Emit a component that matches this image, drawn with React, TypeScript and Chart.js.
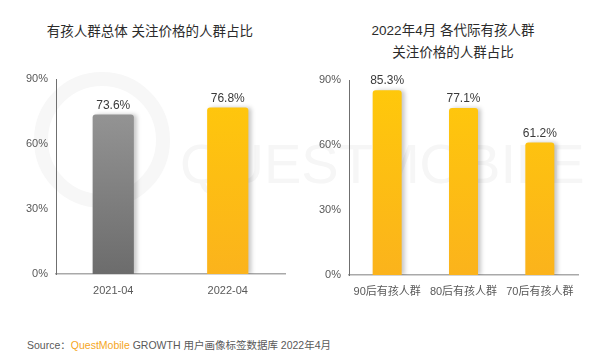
import React, { useEffect, useRef } from "react";
import { Chart, registerables } from "chart.js";
Chart.register(...registerables);

const leftCategories = ["2021-04", "2022-04"];
const leftValues = [73.6, 76.8];
const rightCategories = ["90后有孩人群", "80后有孩人群", "70后有孩人群"];
const rightValues = [85.3, 77.1, 61.2];
const yMin = 0;
const yMax = 90;
const yStep = 30;

const FONT = '"Liberation Sans", "Noto Sans CJK SC", Arial, sans-serif';

type Grad = [string, string];
const grayGrad: Grad = ["#9c9c9c", "#6c6c6c"];
const yellowGrad: Grad = ["#ffc90a", "#fbb31c"];

const valueLabelPlugin = {
  id: "valueLabels",
  beforeDatasetsDraw(chart: any) {
    const ctx = chart.ctx;
    ctx.save();
    ctx.shadowColor = "rgba(0,0,0,0.22)";
    ctx.shadowOffsetX = 3;
    ctx.shadowOffsetY = 0;
    ctx.shadowBlur = 4;
  },
  afterDatasetsDraw(chart: any) {
    const ctx = chart.ctx;
    ctx.restore();
    ctx.save();
    ctx.font = `12px ${FONT}`;
    ctx.fillStyle = "#3a3a3a";
    ctx.textAlign = "center";
    ctx.textBaseline = "middle";
    const meta = chart.getDatasetMeta(0);
    const data = chart.data.datasets[0].data;
    meta.data.forEach((el: any, i: number) => {
      ctx.fillText(Number(data[i]).toFixed(1) + "%", el.x, el.y - 9);
    });
    ctx.restore();
  },
};

function makeChart(
  canvas: HTMLCanvasElement,
  labels: string[],
  values: number[],
  grads: Grad[],
  barPct: number,
  yWidth: number,
  xHeight: number,
  padding: { left: number; right: number; top: number; bottom: number }
) {
  return new Chart(canvas, {
    type: "bar",
    data: {
      labels,
      datasets: [
        {
          data: values,
          backgroundColor: (c: any) => {
            const chart = c.chart;
            const area = chart.chartArea;
            const g = grads[c.dataIndex] || grads[0];
            if (!area) return g[0];
            const grad = chart.ctx.createLinearGradient(0, area.top, 0, area.bottom);
            grad.addColorStop(0, g[0]);
            grad.addColorStop(1, g[1]);
            return grad;
          },
          borderRadius: { topLeft: 3, topRight: 3, bottomLeft: 0, bottomRight: 0 },
          borderSkipped: "bottom",
          barPercentage: barPct,
          categoryPercentage: 1,
        },
      ],
    },
    options: {
      responsive: false,
      animation: false,
      layout: { padding },
      plugins: {
        legend: { display: false },
        title: { display: false },
        tooltip: { enabled: false },
      },
      scales: {
        x: {
          grid: { display: false, drawTicks: false },
          border: { display: true, color: "#a9a9a9", width: 1.5 },
          ticks: {
            color: "#595959",
            font: { size: 11, family: FONT },
            padding: 10,
            maxRotation: 0,
          },
          afterFit(scale: any) {
            scale.height = xHeight;
          },
        },
        y: {
          min: yMin,
          max: yMax,
          grid: { display: false, drawTicks: false },
          border: { display: true, color: "#6f6f6f", width: 1 },
          ticks: {
            stepSize: yStep,
            color: "#595959",
            font: { size: 11, family: FONT },
            padding: 8,
            callback: (v: any) => v + "%",
          },
          afterFit(scale: any) {
            scale.width = yWidth;
          },
        },
      },
    },
    plugins: [valueLabelPlugin],
  } as any);
}

export default function App() {
  const leftRef = useRef<HTMLCanvasElement>(null);
  const rightRef = useRef<HTMLCanvasElement>(null);

  useEffect(() => {
    const c1 = makeChart(
      leftRef.current!,
      leftCategories,
      leftValues,
      [grayGrad, yellowGrad],
      0.36,
      56,
      36,
      { left: 0, right: 15, top: 19, bottom: 0 }
    );
    const c2 = makeChart(
      rightRef.current!,
      rightCategories,
      rightValues,
      [yellowGrad, yellowGrad, yellowGrad],
      0.38,
      49,
      35,
      { left: 0, right: 25, top: 20, bottom: 0 }
    );
    return () => {
      c1.destroy();
      c2.destroy();
    };
  }, []);

  const titleStyle: React.CSSProperties = {
    position: "absolute",
    fontFamily: FONT,
    fontSize: 13.5,
    color: "#2b2b2b",
    textAlign: "center",
    whiteSpace: "nowrap",
    lineHeight: "22px",
  };

  return (
    <div
      style={{
        position: "fixed",
        left: 0,
        top: 0,
        width: 603,
        height: 359,
        background: "#fff",
        overflow: "hidden",
      }}
    >
      {/* faint watermark */}
      <div
        style={{
          position: "absolute",
          left: 34,
          top: 72,
          width: 108,
          height: 108,
          border: "14px solid #f7f7f7",
          borderRadius: "50%",
        }}
      />
      <div
        style={{
          position: "absolute",
          left: 180,
          top: 126,
          fontFamily: FONT,
          fontSize: 56,
          fontWeight: 300,
          letterSpacing: 0,
          color: "#f6f6f6",
          whiteSpace: "nowrap",
          lineHeight: "76px",
        }}
      >
        QUESTMOBILE
      </div>

      <div style={{ ...titleStyle, left: 0, width: 300, top: 21 }}>
        有孩人群总体 关注价格的人群占比
      </div>
      <div style={{ ...titleStyle, left: 300, width: 306, top: 20 }}>
        2022年4月 各代际有孩人群
        <br />
        关注价格的人群占比
      </div>

      <canvas
        ref={leftRef}
        width={300}
        height={250}
        style={{ position: "absolute", left: 0, top: 60, width: 300, height: 250 }}
      />
      <canvas
        ref={rightRef}
        width={303}
        height={250}
        style={{ position: "absolute", left: 300, top: 60, width: 303, height: 250 }}
      />

      <div
        style={{
          position: "absolute",
          left: 27,
          top: 337,
          fontFamily: FONT,
          fontSize: 10.5,
          color: "#595959",
          whiteSpace: "nowrap",
          lineHeight: "16px",
        }}
      >
        Source：
        <span style={{ color: "#f5a623" }}>QuestMobile</span>{" "}
        GROWTH 用户画像标签数据库 2022年4月
      </div>
    </div>
  );
}
